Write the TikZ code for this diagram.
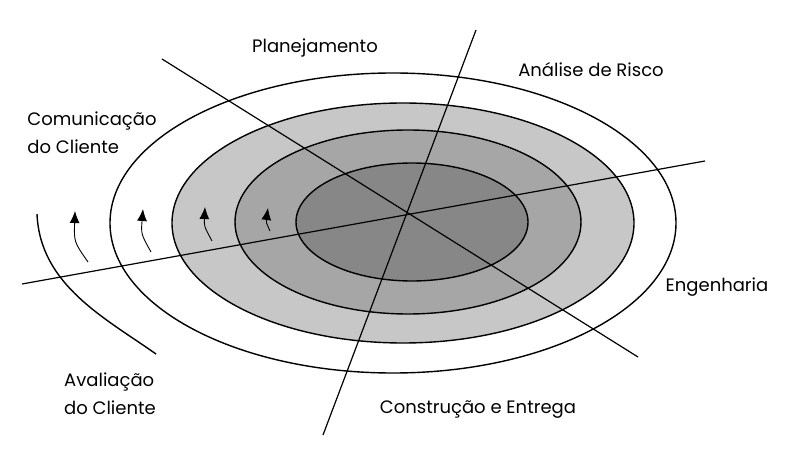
\documentclass[tikz,border=0pt]{standalone}
\usepackage{fontspec}
\setmainfont{Poppins}
\usetikzlibrary{arrows.meta}

\begin{document}
\begin{tikzpicture}[x=0.5pt,y=-0.5pt,
  lab/.style={font=\fontsize{9}{14}\selectfont,align=left,inner sep=0pt},
  ring/.style={draw,line width=0.7pt},
  axis/.style={line width=0.6pt},
  turn/.style={line width=0.45pt,-{Latex[length=6pt,width=5pt]}}]
\useasboundingbox (0,0) rectangle (798,454);
% the rings, from the outside in
\filldraw[ring,fill=white] (393,223) ellipse [x radius=283,y radius=150];
\filldraw[ring,fill=black!22] (403,223) ellipse [x radius=231,y radius=120];
\filldraw[ring,fill=black!35] (408,222) ellipse [x radius=173,y radius=92];
\filldraw[ring,fill=black!47] (412,222) ellipse [x radius=116,y radius=59];
\draw[ring] (37,214) .. controls (40,285) and (105,318) .. (156,354);
% the four quadrant lines
\draw[axis] (22,284) -- (705,161);
\draw[axis] (476,30) -- (323,435);
\draw[axis] (162,59) -- (638,357);
% arrows round the spiral
\draw[turn] (88,262) .. controls (74,242) .. (75,211);
\draw[turn] (151,252) .. controls (141,234) .. (143,209);
\draw[turn] (212,241) .. controls (204,226) .. (205,207);
\draw[turn] (270,231) .. controls (266,222) .. (268,208);
% labels
\node[lab] (plan) at (315,48) {Planejamento};
\node[lab] (risco) at (591,70) {Análise de Risco};
\node[lab] (comu) at (92,133) {Comunicação\\do Cliente};
\node[lab] (eng) at (717,287) {Engenharia};
\node[lab] (aval) at (110,394) {Avaliação\\do Cliente};
\node[lab] (cons) at (478,410) {Construção e Entrega};
\end{tikzpicture}
\end{document}
